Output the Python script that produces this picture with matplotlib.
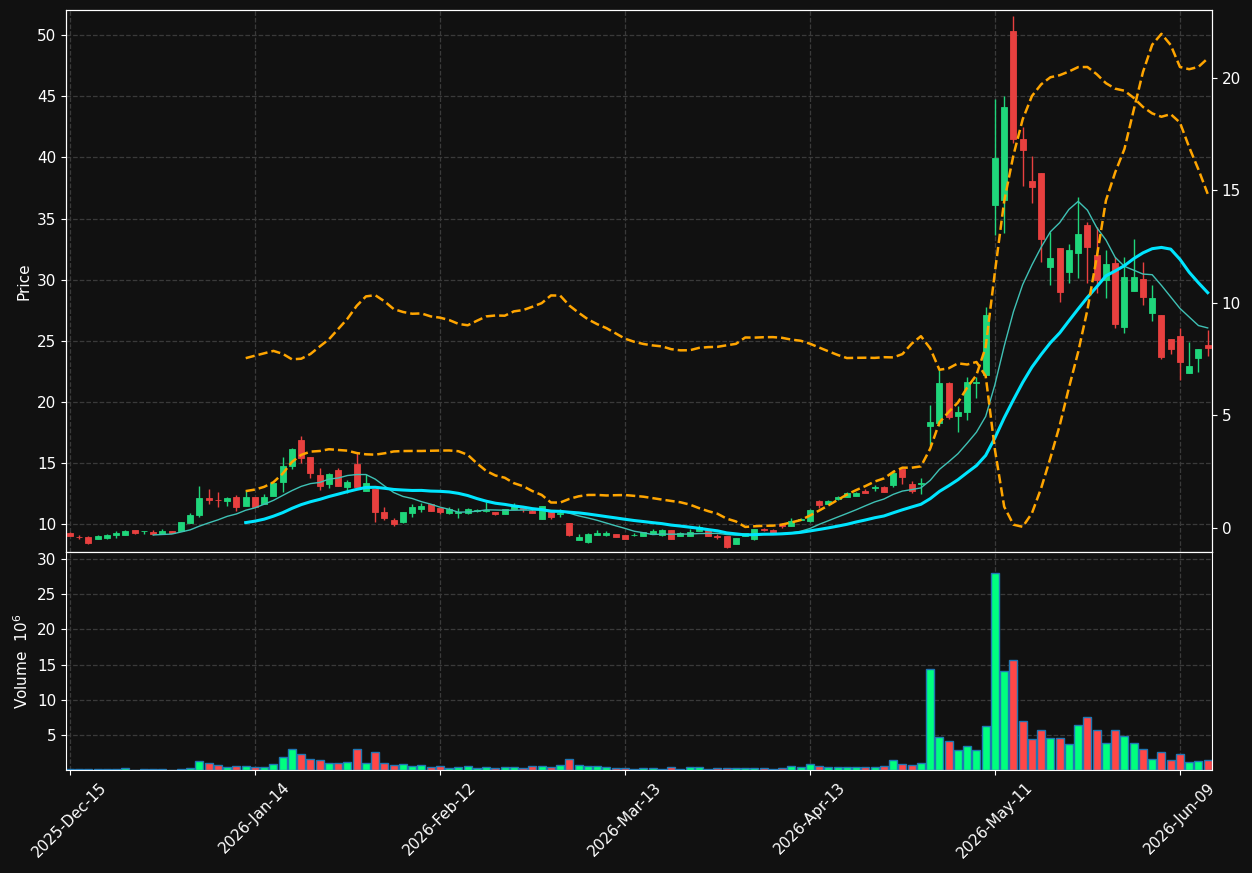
import numpy as np
import pandas as pd
import matplotlib
matplotlib.use("Agg")
import matplotlib.pyplot as plt

# trading days (US market holidays skipped)
holidays = ["2025-12-25", "2026-01-01", "2026-01-19", "2026-02-16", "2026-04-03", "2026-05-25"]
dates = pd.bdate_range("2025-12-15", periods=124, freq="C", holidays=holidays)

opens = [9.30, 8.95, 8.96, 8.80, 8.85, 9.10, 9.10, 9.53, 9.40, 9.35,
         9.16, 9.43, 9.40, 10.08, 10.74, 12.15, 11.97, 11.90, 12.18, 11.47,
         12.20, 11.64, 12.29, 13.44, 14.75, 16.87, 15.48, 14.00, 13.27, 14.42,
         13.05, 14.90, 12.73, 12.84, 10.96, 10.33, 10.19, 10.92, 11.23, 11.60,
         11.33, 10.93, 10.90, 10.92, 11.08, 11.05, 10.95, 10.85, 11.20, 11.30,
         11.10, 10.38, 11.00, 10.80, 10.08, 8.69, 8.55, 9.10, 9.10, 9.18,
         9.10, 9.10, 9.04, 9.20, 9.10, 9.50, 9.05, 9.05, 9.45, 9.50,
         9.00, 9.00, 8.39, 9.05, 8.77, 9.56, 9.50, 10.00, 9.80, 10.30,
         10.27, 11.88, 11.62, 12.02, 12.24, 12.30, 12.73, 12.95, 13.05, 13.16,
         14.47, 13.27, 13.28, 18.02, 18.30, 21.50, 18.84, 19.19, 21.58, 22.20,
         36.10, 36.50, 50.37, 41.48, 38.07, 38.70, 31.06, 32.60, 30.60, 32.15,
         34.47, 32.00, 30.00, 31.40, 26.10, 29.10, 30.03, 27.24, 27.10, 25.10,
         25.38, 22.38, 23.60, 24.65]
highs = [9.35, 9.10, 9.00, 9.10, 9.15, 9.45, 9.55, 9.55, 9.43, 9.50,
         9.60, 9.43, 10.16, 10.90, 13.10, 12.90, 12.60, 12.20, 12.40, 12.80,
         12.20, 12.45, 13.35, 15.45, 16.20, 17.20, 15.50, 14.60, 14.20, 14.60,
         13.60, 15.83, 14.10, 12.84, 11.40, 10.50, 10.98, 11.60, 11.70, 11.60,
         11.33, 11.40, 11.30, 11.35, 11.20, 11.80, 11.00, 11.25, 11.70, 11.35,
         11.20, 11.50, 11.00, 11.20, 10.08, 9.20, 9.30, 9.50, 9.45, 9.18,
         9.10, 9.25, 9.32, 9.60, 9.60, 9.50, 9.35, 9.60, 9.90, 9.50,
         9.20, 9.00, 8.88, 9.30, 9.60, 9.70, 9.60, 10.05, 10.50, 10.50,
         11.20, 11.95, 12.00, 12.30, 12.60, 12.60, 12.90, 13.20, 13.10, 14.40,
         14.50, 13.55, 13.76, 19.74, 22.60, 21.60, 19.66, 22.06, 22.06, 27.73,
         44.75, 45.00, 51.57, 42.50, 40.10, 38.70, 33.90, 32.60, 32.95, 36.80,
         34.74, 34.30, 32.40, 31.87, 31.87, 33.30, 31.46, 29.56, 27.10, 25.10,
         26.00, 24.90, 24.30, 25.90]
lows = [9.00, 8.80, 8.40, 8.78, 8.80, 8.85, 9.10, 9.20, 9.20, 9.10,
        9.16, 9.24, 9.40, 10.08, 10.60, 11.60, 11.40, 11.50, 11.10, 11.47,
        11.40, 11.60, 12.29, 12.60, 14.50, 15.00, 13.80, 12.80, 12.95, 13.10,
        12.50, 13.00, 12.73, 10.19, 10.30, 9.80, 10.10, 10.60, 11.00, 11.06,
        10.80, 10.80, 10.50, 10.80, 11.00, 11.00, 10.75, 10.85, 11.20, 11.00,
        10.90, 10.38, 10.40, 10.60, 9.00, 8.69, 8.45, 9.10, 9.00, 8.96,
        8.80, 9.00, 9.00, 9.20, 9.00, 8.77, 9.00, 9.05, 9.45, 9.04,
        8.80, 8.00, 8.39, 9.00, 8.70, 9.40, 9.30, 9.70, 9.80, 10.30,
        10.20, 11.30, 11.60, 12.00, 12.20, 12.30, 12.56, 12.70, 12.60, 13.00,
        13.30, 12.50, 12.45, 16.46, 18.00, 18.60, 17.50, 18.50, 20.29, 22.20,
        33.65, 33.80, 41.20, 37.70, 36.30, 31.46, 29.55, 28.20, 29.70, 30.10,
        29.70, 28.87, 28.47, 26.00, 25.60, 29.10, 27.90, 26.64, 23.50, 23.90,
        21.78, 22.38, 22.46, 23.77]
closes = [9.05, 8.90, 8.47, 8.99, 9.07, 9.29, 9.45, 9.26, 9.43, 9.15,
          9.43, 9.24, 10.16, 10.74, 12.13, 11.94, 11.93, 12.13, 11.39, 12.18,
          11.40, 12.20, 13.33, 14.75, 16.10, 15.38, 14.20, 13.10, 14.09, 13.10,
          13.44, 13.00, 13.33, 11.00, 10.52, 10.00, 10.98, 11.42, 11.50, 11.06,
          11.00, 11.20, 11.00, 11.20, 11.12, 11.12, 10.85, 11.20, 11.55, 11.20,
          10.90, 11.47, 10.55, 10.90, 9.10, 8.91, 9.16, 9.29, 9.30, 8.96,
          8.80, 9.13, 9.32, 9.40, 9.50, 8.77, 9.25, 9.35, 9.73, 9.04,
          8.90, 8.15, 8.88, 9.25, 9.56, 9.53, 9.30, 9.85, 10.25, 10.40,
          11.15, 11.55, 11.88, 12.24, 12.50, 12.56, 12.56, 12.99, 12.62, 14.20,
          13.87, 12.73, 13.32, 18.37, 21.50, 18.77, 19.17, 21.60, 21.62, 27.10,
          39.92, 44.15, 41.50, 40.60, 37.60, 33.30, 31.80, 29.00, 32.45, 33.70,
          32.70, 30.00, 31.30, 26.37, 30.20, 30.23, 28.60, 28.47, 23.70, 24.30,
          23.28, 22.96, 24.30, 24.43]
# volume in millions
volumes = [0.10, 0.10, 0.10, 0.10, 0.10, 0.10, 0.30, 0.05, 0.15, 0.15,
           0.15, 0.05, 0.15, 0.30, 1.30, 1.02, 0.74, 0.40, 0.54, 0.57,
           0.40, 0.40, 0.88, 1.87, 3.00, 2.30, 1.59, 1.45, 1.02, 1.02,
           1.16, 3.00, 1.02, 2.58, 1.02, 0.74, 0.88, 0.54, 0.74, 0.40,
           0.54, 0.26, 0.40, 0.54, 0.26, 0.40, 0.26, 0.40, 0.40, 0.26,
           0.54, 0.54, 0.40, 0.74, 1.59, 0.74, 0.54, 0.54, 0.40, 0.26,
           0.26, 0.14, 0.26, 0.26, 0.12, 0.40, 0.12, 0.40, 0.40, 0.12,
           0.26, 0.26, 0.26, 0.26, 0.26, 0.26, 0.12, 0.26, 0.54, 0.40,
           0.88, 0.54, 0.40, 0.40, 0.40, 0.40, 0.40, 0.40, 0.54, 1.45,
           0.88, 0.74, 1.02, 14.37, 4.72, 4.15, 2.87, 3.43, 2.87, 6.28,
           28.00, 14.09, 15.65, 6.98, 4.43, 5.71, 4.57, 4.57, 3.72, 6.42,
           7.56, 5.71, 3.86, 5.71, 4.86, 3.86, 3.01, 1.59, 2.58, 1.45,
           2.30, 1.16, 1.31, 1.45]

BG = "#111111"
UP = "#1fd67b"
DOWN = "#e8403f"
VUP = "#00ff7f"
VDOWN = "#ff4747"

o = np.array(opens)
h = np.array(highs)
l = np.array(lows)
c = np.array(closes)
v = np.array(volumes)
x = np.arange(len(c))
up = c >= o

# moving averages and bollinger bands from the closes
cs = pd.Series(c)
ma10 = cs.rolling(10).mean()
ma20 = cs.rolling(20).mean()
sd20 = cs.rolling(20).std(ddof=0)
bb_up = ma20 + 2 * sd20
bb_lo = ma20 - 2 * sd20

fig = plt.figure(figsize=(12.52, 8.73), dpi=100, facecolor=BG)
ax = fig.add_axes([0.0527, 0.3677, 0.9153, 0.6208], facecolor=BG)
axv = fig.add_axes([0.0527, 0.1180, 0.9153, 0.2497], facecolor=BG, sharex=ax)
ax2 = ax.twinx()

# candles
cols = np.where(up, UP, DOWN)
ax.vlines(x, l, h, colors=cols, linewidth=1, zorder=3)
body_lo = np.minimum(o, c)
body_h = np.maximum(np.abs(c - o), 0.04)
ax.bar(x, body_h, bottom=body_lo, width=0.65, color=cols, edgecolor=cols,
       linewidth=0.6, zorder=4)

ax.plot(x, ma10, color="#3fc1b5", linewidth=1.0, zorder=5)
ax.plot(x, ma20, color="#00e5ff", linewidth=2.2, zorder=5)
ax.plot(x, bb_up, color="orange", linestyle="--", linewidth=1.8, zorder=6)
ax2.plot(x, bb_lo, color="orange", linestyle="--", linewidth=1.8)

# volume
vcols = np.where(up, VUP, VDOWN)
axv.bar(x, v, width=0.87, color=vcols, edgecolor="#1f77b4", linewidth=1)

ax.set_xlim(-0.43, 123.46)
ax.set_ylim(7.71, 52.06)
ax.set_yticks(np.arange(10, 51, 5))
ax2.set_ylim(-1.07, 23.0)
ax2.set_yticks([0, 5, 10, 15, 20])
axv.set_ylim(0, 31)
axv.set_yticks([5, 10, 15, 20, 25, 30])

ticks = list(range(0, 124, 20))
axv.set_xticks(ticks)
axv.set_xticklabels([dates[t].strftime("%Y-%b-%d") for t in ticks], rotation=45)

for a in (ax, axv):
    a.grid(True, linestyle="--", color="#3a3a3a", linewidth=0.9)
    a.set_axisbelow(True)
for a in (ax, axv, ax2):
    for s in a.spines.values():
        s.set_color("white")
    a.tick_params(colors="white", labelsize=11)
ax.tick_params(axis="x", length=0, labelbottom=False)

ax.set_ylabel("Price", color="white", fontsize=11)
axv.set_ylabel("Volume  $10^{6}$", color="white", fontsize=11)

fig.savefig("out.png", dpi=100, facecolor=BG)
